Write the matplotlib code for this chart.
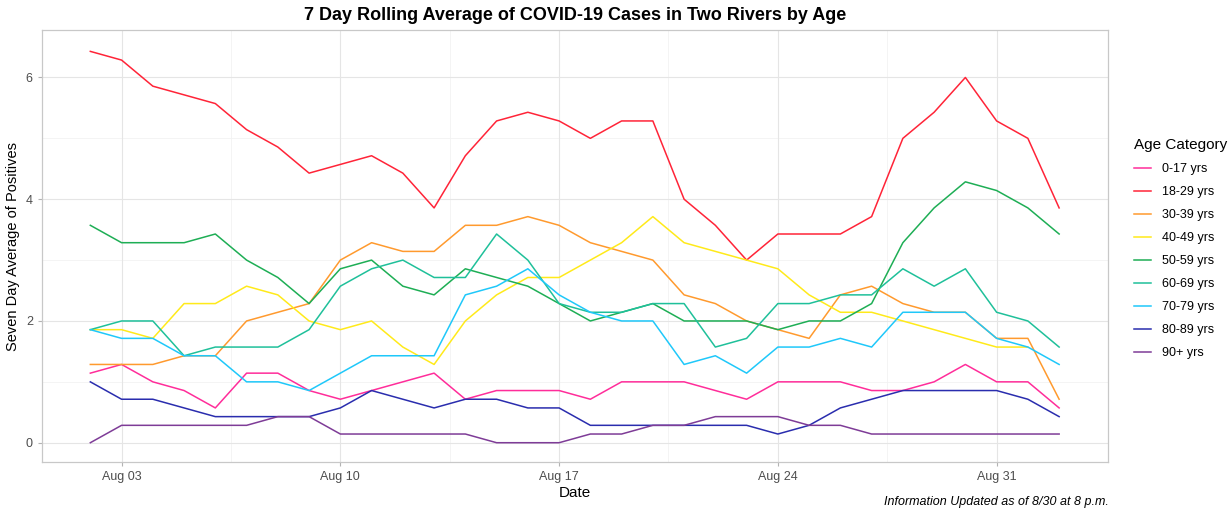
import numpy as np
import pandas as pd
import matplotlib
matplotlib.use("Agg")
import matplotlib.pyplot as plt
import matplotlib.dates as mdates
from matplotlib.ticker import MultipleLocator

plt.rcParams['font.family'] = ['Liberation Sans', 'DejaVu Sans']

# dates of the rolling average
dates = pd.date_range("2020-08-02", "2020-09-02")

# 7 day rolling sums of positives (plotted value = sum / 7)
sum_0_17 = [8, 9, 7, 6, 4, 8, 8, 6, 5, 6, 7, 8, 5, 6, 6, 6, 5, 7, 7, 7, 6, 5, 7, 7, 7, 6, 6, 7, 9, 7, 7, 4]
sum_18_29 = [45, 44, 41, 40, 39, 36, 34, 31, 32, 33, 31, 27, 33, 37, 38, 37, 35, 37, 37, 28, 25, 21, 24, 24, 24, 26, 35, 38, 42, 37, 35, 27]
sum_30_39 = [9, 9, 9, 10, 10, 14, 15, 16, 21, 23, 22, 22, 25, 25, 26, 25, 23, 22, 21, 17, 16, 14, 13, 12, 17, 18, 16, 15, 15, 12, 12, 5]
sum_40_49 = [13, 13, 12, 16, 16, 18, 17, 14, 13, 14, 11, 9, 14, 17, 19, 19, 21, 23, 26, 23, 22, 21, 20, 17, 15, 15, 14, 13, 12, 11, 11]
sum_50_59 = [25, 23, 23, 23, 24, 21, 19, 16, 20, 21, 18, 17, 20, 19, 18, 16, 14, 15, 16, 14, 14, 14, 13, 14, 14, 16, 23, 27, 30, 29, 27, 24]
sum_60_69 = [13, 14, 14, 10, 11, 11, 11, 13, 18, 20, 21, 19, 19, 24, 21, 16, 15, 15, 16, 16, 11, 12, 16, 16, 17, 17, 20, 18, 20, 15, 14, 11]
sum_70_79 = [13, 12, 12, 10, 10, 7, 7, 6, 8, 10, 10, 10, 17, 18, 20, 17, 15, 14, 14, 9, 10, 8, 11, 11, 12, 11, 15, 15, 15, 12, 11, 9]
sum_80_89 = [7, 5, 5, 4, 3, 3, 3, 3, 4, 6, 5, 4, 5, 5, 4, 4, 2, 2, 2, 2, 2, 2, 1, 2, 4, 5, 6, 6, 6, 6, 5, 3]
sum_90p = [0, 2, 2, 2, 2, 2, 3, 3, 1, 1, 1, 1, 1, 0, 0, 0, 1, 1, 2, 2, 3, 3, 3, 2, 2, 1, 1, 1, 1, 1, 1, 1]

groups = ["0-17 yrs", "18-29 yrs", "30-39 yrs", "40-49 yrs", "50-59 yrs",
          "60-69 yrs", "70-79 yrs", "80-89 yrs", "90+ yrs"]
sums = [sum_0_17, sum_18_29, sum_30_39, sum_40_49, sum_50_59,
        sum_60_69, sum_70_79, sum_80_89, sum_90p]
colors = ["#FF2D9A", "#FF2438", "#FF9A2E", "#FFEA1A", "#1EAE55",
          "#1FC09A", "#1FC8FA", "#2A2DAE", "#7E3C97"]

tick_days = ["2020-08-03", "2020-08-10", "2020-08-17", "2020-08-24", "2020-08-31"]

fig = plt.figure(figsize=(12.32, 5.17), dpi=100)
ax = fig.add_axes([0.034, 0.106, 0.865, 0.836])

for name, s, c in zip(groups, sums, colors):
    vals = np.array(s) / 7
    ax.plot(dates[:len(vals)], vals, color=c, lw=1.1, label=name)

ax.set_xlim(pd.Timestamp("2020-08-02") - pd.Timedelta(days=1.55),
            pd.Timestamp("2020-09-02") + pd.Timedelta(days=1.55))
ax.set_ylim(-0.32, 6.78)

ax.set_xticks(pd.to_datetime(tick_days))
ax.xaxis.set_major_formatter(mdates.DateFormatter("%b %d"))
ax.yaxis.set_major_locator(MultipleLocator(2))

# minor gridlines half way between the major ones
for d in tick_days[:-1]:
    ax.axvline(pd.Timestamp(d) + pd.Timedelta(days=3.5), color="#F2F2F2", lw=0.6, zorder=0)
for my in [1, 3, 5]:
    ax.axhline(my, color="#F2F2F2", lw=0.6, zorder=0)
ax.grid(True, which="major", color="#E5E5E5", lw=0.8, zorder=0)
ax.set_axisbelow(True)

for sp in ax.spines.values():
    sp.set_color("#C8C8C8")
    sp.set_linewidth(0.9)
ax.tick_params(axis="both", colors="#B3B3B3", length=3, width=0.8,
               labelsize=9, labelcolor="#4D4D4D")

ax.set_title("7 Day Rolling Average of COVID-19 Cases in Two Rivers by Age",
             fontsize=13, fontweight="bold", pad=7)
ax.set_xlabel("Date", fontsize=11, labelpad=2)
ax.set_ylabel("Seven Day Average of Positives", fontsize=10.5, labelpad=4)

leg = ax.legend(title="Age Category", loc="upper left",
                bbox_to_anchor=(1.0145, 0.776), frameon=False,
                fontsize=9, title_fontsize=11, handlelength=1.35,
                labelspacing=0.88, handletextpad=0.9)
leg._legend_box.align = "left"

fig.text(0.900, 0.017, "Information Updated as of 8/30 at 8 p.m.",
         ha="right", va="bottom", fontsize=9, style="italic")

fig.savefig("out.png", dpi=100)
